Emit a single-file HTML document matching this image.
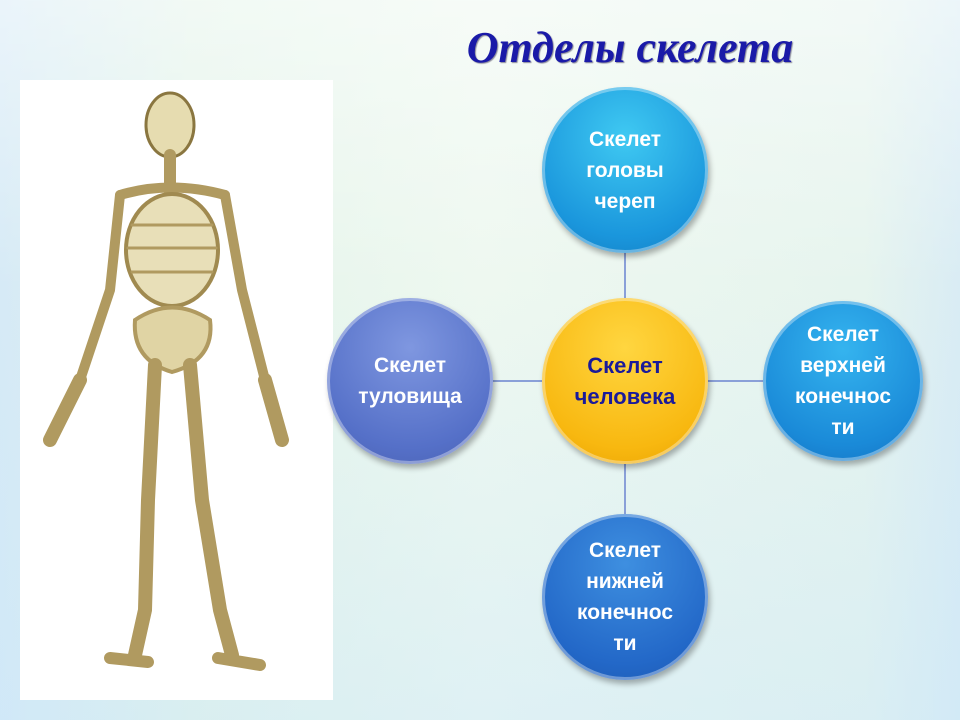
<!DOCTYPE html>
<html><head><meta charset="utf-8"><style>
body{margin:0;width:960px;height:720px;overflow:hidden;font-family:"Liberation Sans","DejaVu Sans",sans-serif;
background:linear-gradient(90deg,#d6eaf6 0%,#e4f4ea 20%,#eef8f0 50%,#e6f4ee 90%,#d9ecf4 100%);position:relative}
.bg2{position:absolute;inset:0;background:linear-gradient(180deg,rgba(255,255,255,.5),rgba(255,255,255,0) 40%,rgba(200,230,250,.4))}
.title{position:absolute;left:440px;top:22px;width:380px;text-align:center;font-family:"Liberation Serif",serif;font-style:italic;font-weight:bold;font-size:44px;color:#1a1aa8;text-shadow:1px 1px 1px #889}
.c{position:absolute;border-radius:50%;display:flex;align-items:center;justify-content:center;text-align:center;font-weight:bold;font-size:21px;line-height:31px;color:#fff;box-shadow:2px 4px 6px rgba(0,0,0,.3), inset 0 0 0 3px rgba(255,255,255,.35)}
.blue{background:radial-gradient(circle at 50% 30%,#3fc9f2,#1a96dc 70%,#137cc0)}
.ln{position:absolute;background:#8aa0d8}
</style></head><body><div class="bg2"></div>
<div class="title">Отделы скелета</div>
<div style="position:absolute;left:20px;top:80px;width:313px;height:620px;background:#fff"></div>
<svg style="position:absolute;left:20px;top:80px" width="313" height="620" viewBox="0 0 313 620" fill="none" stroke="#b09a60" stroke-width="10" stroke-linecap="round">
<ellipse cx="150" cy="45" rx="24" ry="32" fill="#e6dcb0" stroke="#8a7640" stroke-width="3"/>
<path d="M150 75 L150 240" stroke-width="12"/>
<path d="M100 115 Q150 100 205 115" />
<ellipse cx="152" cy="170" rx="46" ry="56" fill="#e8dfb8" stroke="#a08a50" stroke-width="4"/>
<path d="M112 145 H192 M108 168 H196 M112 192 H192" stroke-width="3"/>
<path d="M115 240 Q152 215 190 240 Q195 280 152 292 Q112 280 115 240Z" fill="#e0d4a4" stroke-width="4"/>
<path d="M100 115 L90 210 L60 300 M205 115 L222 210 L245 300"/>
<path d="M60 300 L30 360 M245 300 L262 360" stroke-width="14"/>
<path d="M135 285 L128 420 L125 530 L115 575 M170 285 L182 420 L200 530 L212 575" stroke-width="14"/>
<path d="M90 578 L128 582 M198 578 L240 585" stroke-width="12"/>
</svg>
<div class="ln" style="left:624px;top:250px;width:2px;height:350px"></div>
<div class="ln" style="left:410px;top:380px;width:435px;height:2px"></div>
<div class="c blue" style="left:542px;top:87px;width:166px;height:166px">Скелет<br>головы<br>череп</div>
<div class="c" style="left:327px;top:298px;width:166px;height:166px;background:radial-gradient(circle at 50% 30%,#7f97e0,#5570c8 70%,#4a60b0)">Скелет<br>туловища</div>
<div class="c" style="left:542px;top:298px;width:166px;height:166px;color:#1a1a9a;font-size:22px;background:radial-gradient(circle at 50% 30%,#ffd640,#f8b810 70%,#e8a000)">Скелет<br>человека</div>
<div class="c blue" style="left:763px;top:301px;width:160px;height:160px;background:radial-gradient(circle at 50% 30%,#35b4ef,#1a8ad8 70%,#1470c0)">Скелет<br>верхней<br>конечнос<br>ти</div>
<div class="c" style="left:542px;top:514px;width:166px;height:166px;background:radial-gradient(circle at 50% 30%,#3e8fe0,#2368c8 70%,#1c58b0)">Скелет<br>нижней<br>конечнос<br>ти</div>
</body></html>
